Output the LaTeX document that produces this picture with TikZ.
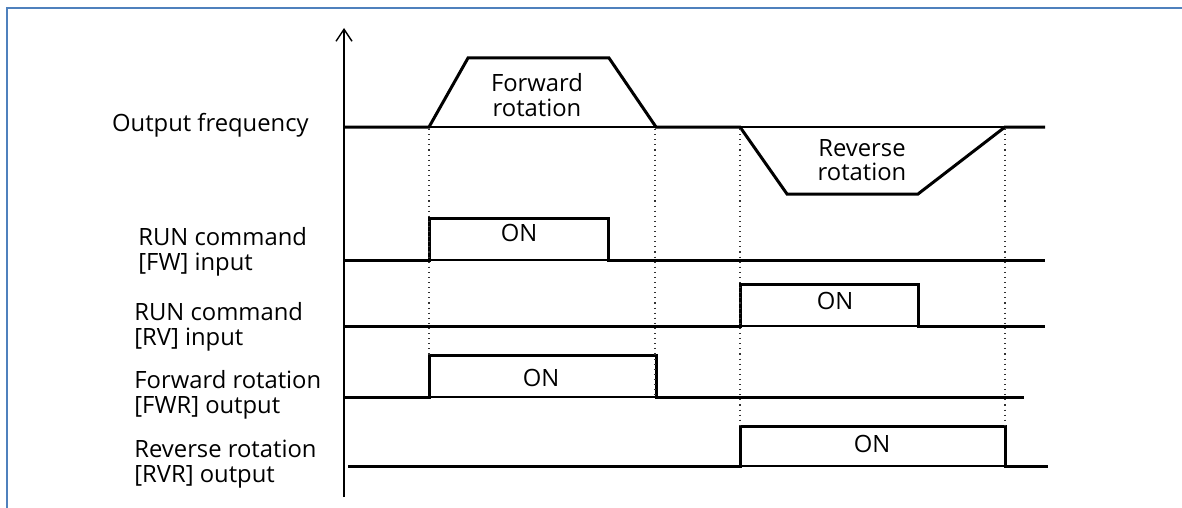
\documentclass[tikz,border=0pt]{standalone}
\usepackage{fontspec}
\setmainfont{Open Sans}
\usetikzlibrary{
  positioning,
  arrows.meta
}
\definecolor{framecolor}{RGB}{79,129,189}
\definecolor{linecol}{RGB}{0,0,0}
\definecolor{guidecol}{RGB}{50,50,50}
\tikzset{
  signal/.style={
    line width=1.5pt,
    color=linecol
  },
  zeroline/.style={
    line width=0.7pt,
    color=linecol
  },
  guide/.style={
    dotted,
    line width=0.55pt,
    color=guidecol
  },
  axisarrow/.style={
    -{Straight Barb[length=6pt,width=8pt]},
    line width=0.7pt,
    color=linecol
  },
  sigtext/.style={
    font=\fontsize{11.9}{12.2}\selectfont,
    align=left,
    anchor=west,
    inner sep=0pt
  },
  ontext/.style={
    font=\fontsize{11.9}{12.2}\selectfont,
    align=center,
    inner sep=0pt
  }
}

\begin{document}
\begin{tikzpicture}[x=0.5pt, y=-0.5pt]
  \useasboundingbox (0,0) rectangle (1182,508);

  % Frame
  \draw[framecolor, line width=1.2pt] (7,508) -- (7,8) -- (1182,8);

  % Time axis
  \coordinate (axisbot) at (344,497);
  \coordinate (axistop) at (344,28);
  \draw[axisarrow] (axisbot) -- (axistop);

  % Signal labels
  \node[sigtext, anchor=east] (freqlabel) at (309,125) {Output frequency};
  \node[sigtext] (fwlabel) at (138,252) {RUN command\\{}[FW] input};
  \node[sigtext] (rvlabel) at (134,327) {RUN command\\{}[RV] input};
  \node[sigtext] (fwrlabel) at (134,395) {Forward rotation\\{}[FWR] output};
  \node[sigtext] (rvrlabel) at (134,464) {Reverse rotation\\{}[RVR] output};

  % Output frequency
  \draw[zeroline] (429,127) -- (1005,127);
  \draw[signal] (344,127) -- (429,127) -- (468,58) -- (609,58) -- (656,127)
    -- (740,127) -- (787,194) -- (918,194) -- (1005,127) -- (1045,127);
  \node[ontext] (fwdtext) at (537,95) {Forward\\rotation};
  \node[ontext] (revtext) at (862,160) {Reverse\\rotation};

  % RUN command [FW]
  \draw[zeroline] (429,260) -- (608,260);
  \draw[signal] (344,260) -- (429,260) -- (429,218) -- (608,218) -- (608,260) -- (1045,260);
  \node[ontext] (fwon) at (519,233) {ON};

  % RUN command [RV]
  \draw[zeroline] (740,326) -- (918,326);
  \draw[signal] (344,326) -- (740,326) -- (740,284) -- (918,284) -- (918,326) -- (1045,326);
  \node[ontext] (rvon) at (835,301) {ON};

  % Forward rotation [FWR]
  \draw[zeroline] (429,397) -- (656,397);
  \draw[signal] (344,397) -- (429,397) -- (429,355) -- (656,355) -- (656,397) -- (1024,397);
  \node[ontext] (fwron) at (541,378) {ON};

  % Reverse rotation [RVR]
  \draw[zeroline] (740,466) -- (1005,466);
  \draw[signal] (348,466) -- (740,466) -- (740,426) -- (1005,426) -- (1005,466) -- (1048,466);
  \node[ontext] (rvron) at (872,444) {ON};

  % Timing guides
  \draw[guide] (429,129) -- (429,355);
  \draw[guide] (655,129) -- (655,397);
  \draw[guide] (740,129) -- (740,426);
  \draw[guide] (1005,129) -- (1005,426);

\end{tikzpicture}
\end{document}
